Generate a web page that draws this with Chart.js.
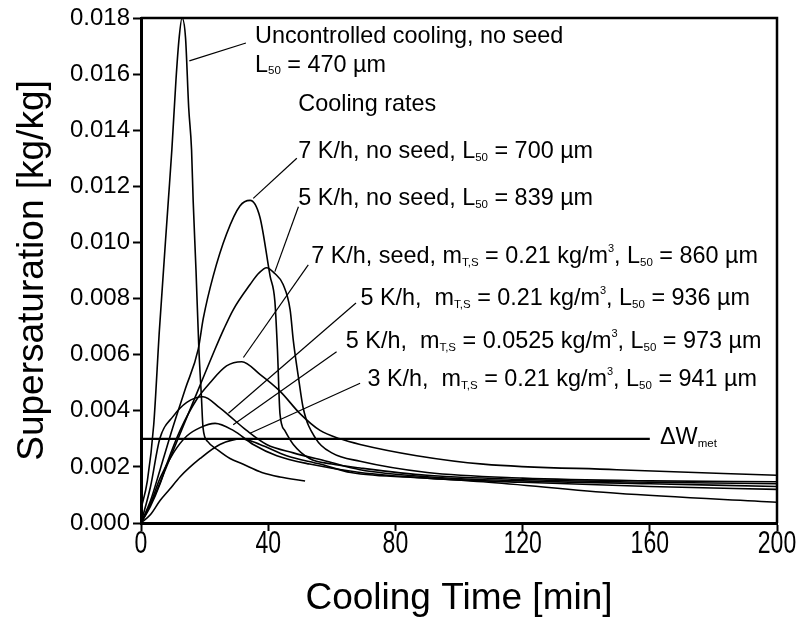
<!DOCTYPE html>
<html>
<head>
<meta charset="utf-8">
<script src="https://cdn.jsdelivr.net/npm/chart.js@4.4.1/dist/chart.umd.min.js"></script>
<style>
    html, body { margin: 0; padding: 0; background: #fff; }
    #wrap { width: 799px; height: 617px; }
</style>
</head>
<body>
<div id="wrap"><canvas id="SupersatChart" width="799" height="617"></canvas></div>
<script>
// cooling time [min] and supersaturation [kg/kg]
const uncontrolledTime = [0, 2, 4, 5.8, 8.6, 9.7, 11, 12, 12.9, 14, 15, 15.9, 16.4, 17.3, 18.2, 19, 19.5, 21, 24.2, 28, 32, 38, 43.7, 51.6];
const uncontrolledSat = [0.0005, 0.0015, 0.0035, 0.0069, 0.0115, 0.0133, 0.0158, 0.0173, 0.018, 0.0173, 0.0148, 0.0133, 0.0115, 0.009, 0.0062, 0.0045, 0.0034, 0.0029, 0.0026, 0.0023, 0.0021, 0.0018, 0.00164, 0.0015];

const noSeed7Time = [0, 3, 6, 10, 14, 18, 19.6, 22.7, 26.9, 31.1, 34.3, 37.4, 40.6, 42.1, 42.9, 43.7, 45.2, 47.9, 53, 60, 68.9, 90, 120, 160, 200];
const noSeed7Sat = [0, 0.0008, 0.0019, 0.0034, 0.0048, 0.0062, 0.0073, 0.0088, 0.0103, 0.0113, 0.0115, 0.0109, 0.0088, 0.0079, 0.0062, 0.0039, 0.0033, 0.0028, 0.0023, 0.0021, 0.00196, 0.0017, 0.00155, 0.00145, 0.0014];

const noSeed5Time = [0, 4, 8, 12, 16, 20, 23.3, 26, 29, 34.3, 37, 39.5, 42, 44.7, 46.9, 47.9, 49.5, 51, 55, 60, 68.9, 90, 120, 160, 200];
const noSeed5Sat = [0, 0.0009, 0.002, 0.0031, 0.0042, 0.0053, 0.0062, 0.0069, 0.0076, 0.0085, 0.0089, 0.0091, 0.0089, 0.0085, 0.0076, 0.0065, 0.0052, 0.0041, 0.003, 0.0025, 0.0022, 0.0018, 0.0016, 0.0015, 0.00147];

const seed7Time = [0, 3, 6, 8.1, 12.3, 17.5, 21.7, 26.9, 31.7, 37.4, 43.7, 50, 56.3, 62.6, 68.9, 86.7, 107.6, 149.6, 200];
const seed7Sat = [0, 0.0006, 0.0014, 0.0021, 0.0033, 0.0044, 0.005, 0.0056, 0.00575, 0.0053, 0.0047, 0.0039, 0.0033, 0.003, 0.0028, 0.0024, 0.0021, 0.0019, 0.0017];

const seed5Time = [0, 3, 5.9, 10.1, 14.4, 19.5, 24.8, 28, 33.2, 39.5, 47.9, 58.4, 68.9, 90, 120, 160, 200];
const seed5Sat = [0, 0.0013, 0.003, 0.0038, 0.0043, 0.0045, 0.0041, 0.0038, 0.0033, 0.0028, 0.0025, 0.0022, 0.0019, 0.00165, 0.0015, 0.0014, 0.0013];

const seed5LowTime = [0, 3, 6, 10.2, 14.4, 18.6, 23.3, 29, 35.3, 42.7, 53, 68.9, 90, 120, 160, 200];
const seed5LowSat = [0, 0.0007, 0.0016, 0.0025, 0.0031, 0.0034, 0.00355, 0.0033, 0.0028, 0.0024, 0.0021, 0.0018, 0.0016, 0.00145, 0.0013, 0.0012];

const seed3Time = [0, 3, 6, 9, 12.3, 18.6, 24.8, 31.7, 37.4, 45.8, 56.3, 66, 90, 107.6, 149.6, 200];
const seed3Sat = [0, 0.0003, 0.0008, 0.0012, 0.00165, 0.0023, 0.0028, 0.003, 0.0028, 0.0024, 0.0021, 0.0018, 0.0016, 0.00147, 0.00106, 0.00074];

// metastable zone width line
const metTime = [0, 160];
const metSat = [0.003, 0.003];

const xTicks = [0, 40, 80, 120, 160, 200];

const FONT = '"Liberation Sans", Arial, sans-serif';

// text labels: pieces are [text, 'sub' | 'sup' | ''], placed in data units
const notes = [
    { x: 35.85, y: 0.01733, parts: [['Uncontrolled cooling, no seed', '']] },
    { x: 35.85, y: 0.01632, parts: [['L', ''], ['50', 'sub'], [' = 470 µm', '']] },
    { x: 49.47, y: 0.01493, parts: [['Cooling rates', '']] },
    { x: 49.47, y: 0.01323, parts: [['7 K/h, no seed, L', ''], ['50', 'sub'], [' = 700 µm', '']] },
    { x: 49.47, y: 0.01157, parts: [['5 K/h, no seed, L', ''], ['50', 'sub'], [' = 839 µm', '']] },
    { x: 53.5, y: 0.00949, parts: [['7 K/h, seed, m', ''], ['T,S', 'sub'], [' = 0.21 kg/m', ''], ['3', 'sup'], [', L', ''], ['50', 'sub'], [' = 860 µm', '']] },
    { x: 69.0, y: 0.0080, parts: [['5 K/h,  m', ''], ['T,S', 'sub'], [' = 0.21 kg/m', ''], ['3', 'sup'], [', L', ''], ['50', 'sub'], [' = 936 µm', '']] },
    { x: 64.4, y: 0.00646, parts: [['5 K/h,  m', ''], ['T,S', 'sub'], [' = 0.0525 kg/m', ''], ['3', 'sup'], [', L', ''], ['50', 'sub'], [' = 973 µm', '']] },
    { x: 71.2, y: 0.0051, parts: [['3 K/h,  m', ''], ['T,S', 'sub'], [' = 0.21 kg/m', ''], ['3', 'sup'], [', L', ''], ['50', 'sub'], [' = 941 µm', '']] },
    { x: 163.2, y: 0.00303, parts: [['ΔW', ''], ['met', 'sub']] }
];

// leader lines from the labels to the curves
const leaders = [
    [33.0, 0.01711, 15.2, 0.01647],
    [49.0, 0.0130, 35.3, 0.01157],
    [49.5, 0.01127, 42.1, 0.00896],
    [52.6, 0.0092, 32.2, 0.0059],
    [67.6, 0.00784, 27.5, 0.00391],
    [61.5, 0.0061, 29.0, 0.0035],
    [68.9, 0.00498, 34.3, 0.0032]
];

function toPoints(xs, ys){
    return xs.map((x, i) => ({ x: x, y: ys[i] }));
}

function curve(xs, ys, width){
    return {
        data: toPoints(xs, ys),
        borderColor: '#000',
        borderWidth: width,
        pointRadius: 0,
        fill: false,
        cubicInterpolationMode: 'monotone'
    };
}

function drawParts(ctx, parts, x, y){
    let cx = x;
    parts.forEach(p => {
        let size = 23.4, dy = 0;
        if (p[1] === 'sub') { size = 11.5; dy = 6; }
        if (p[1] === 'sup') { size = 11; dy = -8; }
        ctx.font = size + 'px ' + FONT;
        ctx.fillText(p[0], cx, y + dy);
        cx += ctx.measureText(p[0]).width;
    });
}

const annotationPlugin = {
    id: 'annotations',
    afterDatasetsDraw(chart){
        const ctx = chart.ctx;
        const xs = chart.scales.x, ys = chart.scales.y;
        const a = chart.chartArea;
        ctx.save();
        // frame top and right
        ctx.strokeStyle = '#000';
        ctx.lineWidth = 2.5;
        ctx.beginPath();
        ctx.moveTo(a.left, a.top);
        ctx.lineTo(a.right, a.top);
        ctx.lineTo(a.right, a.bottom);
        ctx.stroke();
        // leader lines
        ctx.lineWidth = 1.2;
        leaders.forEach(l => {
            ctx.beginPath();
            ctx.moveTo(xs.getPixelForValue(l[0]), ys.getPixelForValue(l[1]));
            ctx.lineTo(xs.getPixelForValue(l[2]), ys.getPixelForValue(l[3]));
            ctx.stroke();
        });
        // labels
        ctx.fillStyle = '#000';
        ctx.textBaseline = 'middle';
        ctx.textAlign = 'left';
        notes.forEach(n => drawParts(ctx, n.parts, xs.getPixelForValue(n.x), ys.getPixelForValue(n.y)));
        // x tick labels, narrow like the original
        ctx.textAlign = 'center';
        ctx.textBaseline = 'top';
        ctx.font = '32px ' + FONT;
        xs.ticks.forEach(t => {
            ctx.save();
            ctx.translate(xs.getPixelForValue(t.value), a.bottom + 5);
            ctx.scale(0.72, 1);
            ctx.fillText(String(t.value), 0, 0);
            ctx.restore();
        });
        ctx.restore();
    }
};

function createSupersatChart(){
    const ctx = document.getElementById('SupersatChart').getContext('2d');
    new Chart(ctx, {
        type: 'line',
        data: {
            datasets: [
                curve(uncontrolledTime, uncontrolledSat, 1.6),
                curve(noSeed7Time, noSeed7Sat, 1.6),
                curve(noSeed5Time, noSeed5Sat, 1.6),
                curve(seed7Time, seed7Sat, 1.6),
                curve(seed5Time, seed5Sat, 1.6),
                curve(seed5LowTime, seed5LowSat, 1.6),
                curve(seed3Time, seed3Sat, 1.6),
                curve(metTime, metSat, 2.4)
            ]
        },
        options: {
            responsive: false,
            animation: false,
            devicePixelRatio: 1,
            layout: { padding: { top: 18, right: 22, left: 0, bottom: 0 } },
            plugins: {
                legend: { display: false },
                tooltip: { enabled: false }
            },
            scales: {
                x: {
                    type: 'linear',
                    min: 0,
                    max: 200,
                    afterBuildTicks: scale => { scale.ticks = xTicks.map(v => ({ value: v })); },
                    afterFit: scale => { scale.height = 94; },
                    ticks: { display: false },
                    grid: { drawOnChartArea: false, drawTicks: true, tickLength: 8, tickColor: '#000', tickWidth: 2 },
                    border: { color: '#000', width: 3 },
                    title: {
                        display: true,
                        text: 'Cooling Time [min]',
                        color: '#000',
                        padding: { top: 0, bottom: 0 },
                        font: { size: 37, family: FONT, lineHeight: 1 }
                    }
                },
                y: {
                    min: 0,
                    max: 0.018,
                    afterFit: scale => { scale.width = 141; },
                    ticks: {
                        stepSize: 0.002,
                        color: '#000',
                        padding: 3,
                        callback: v => v.toFixed(3),
                        font: { size: 24, family: FONT }
                    },
                    grid: { drawOnChartArea: false, drawTicks: true, tickLength: 8, tickColor: '#000', tickWidth: 2 },
                    border: { color: '#000', width: 3 },
                    title: {
                        display: true,
                        text: 'Supersaturation [kg/kg]',
                        color: '#000',
                        padding: { top: 14, bottom: 0 },
                        font: { size: 37, family: FONT, lineHeight: 1 }
                    }
                }
            }
        },
        plugins: [annotationPlugin]
    });
}

createSupersatChart();
</script>
</body>
</html>
